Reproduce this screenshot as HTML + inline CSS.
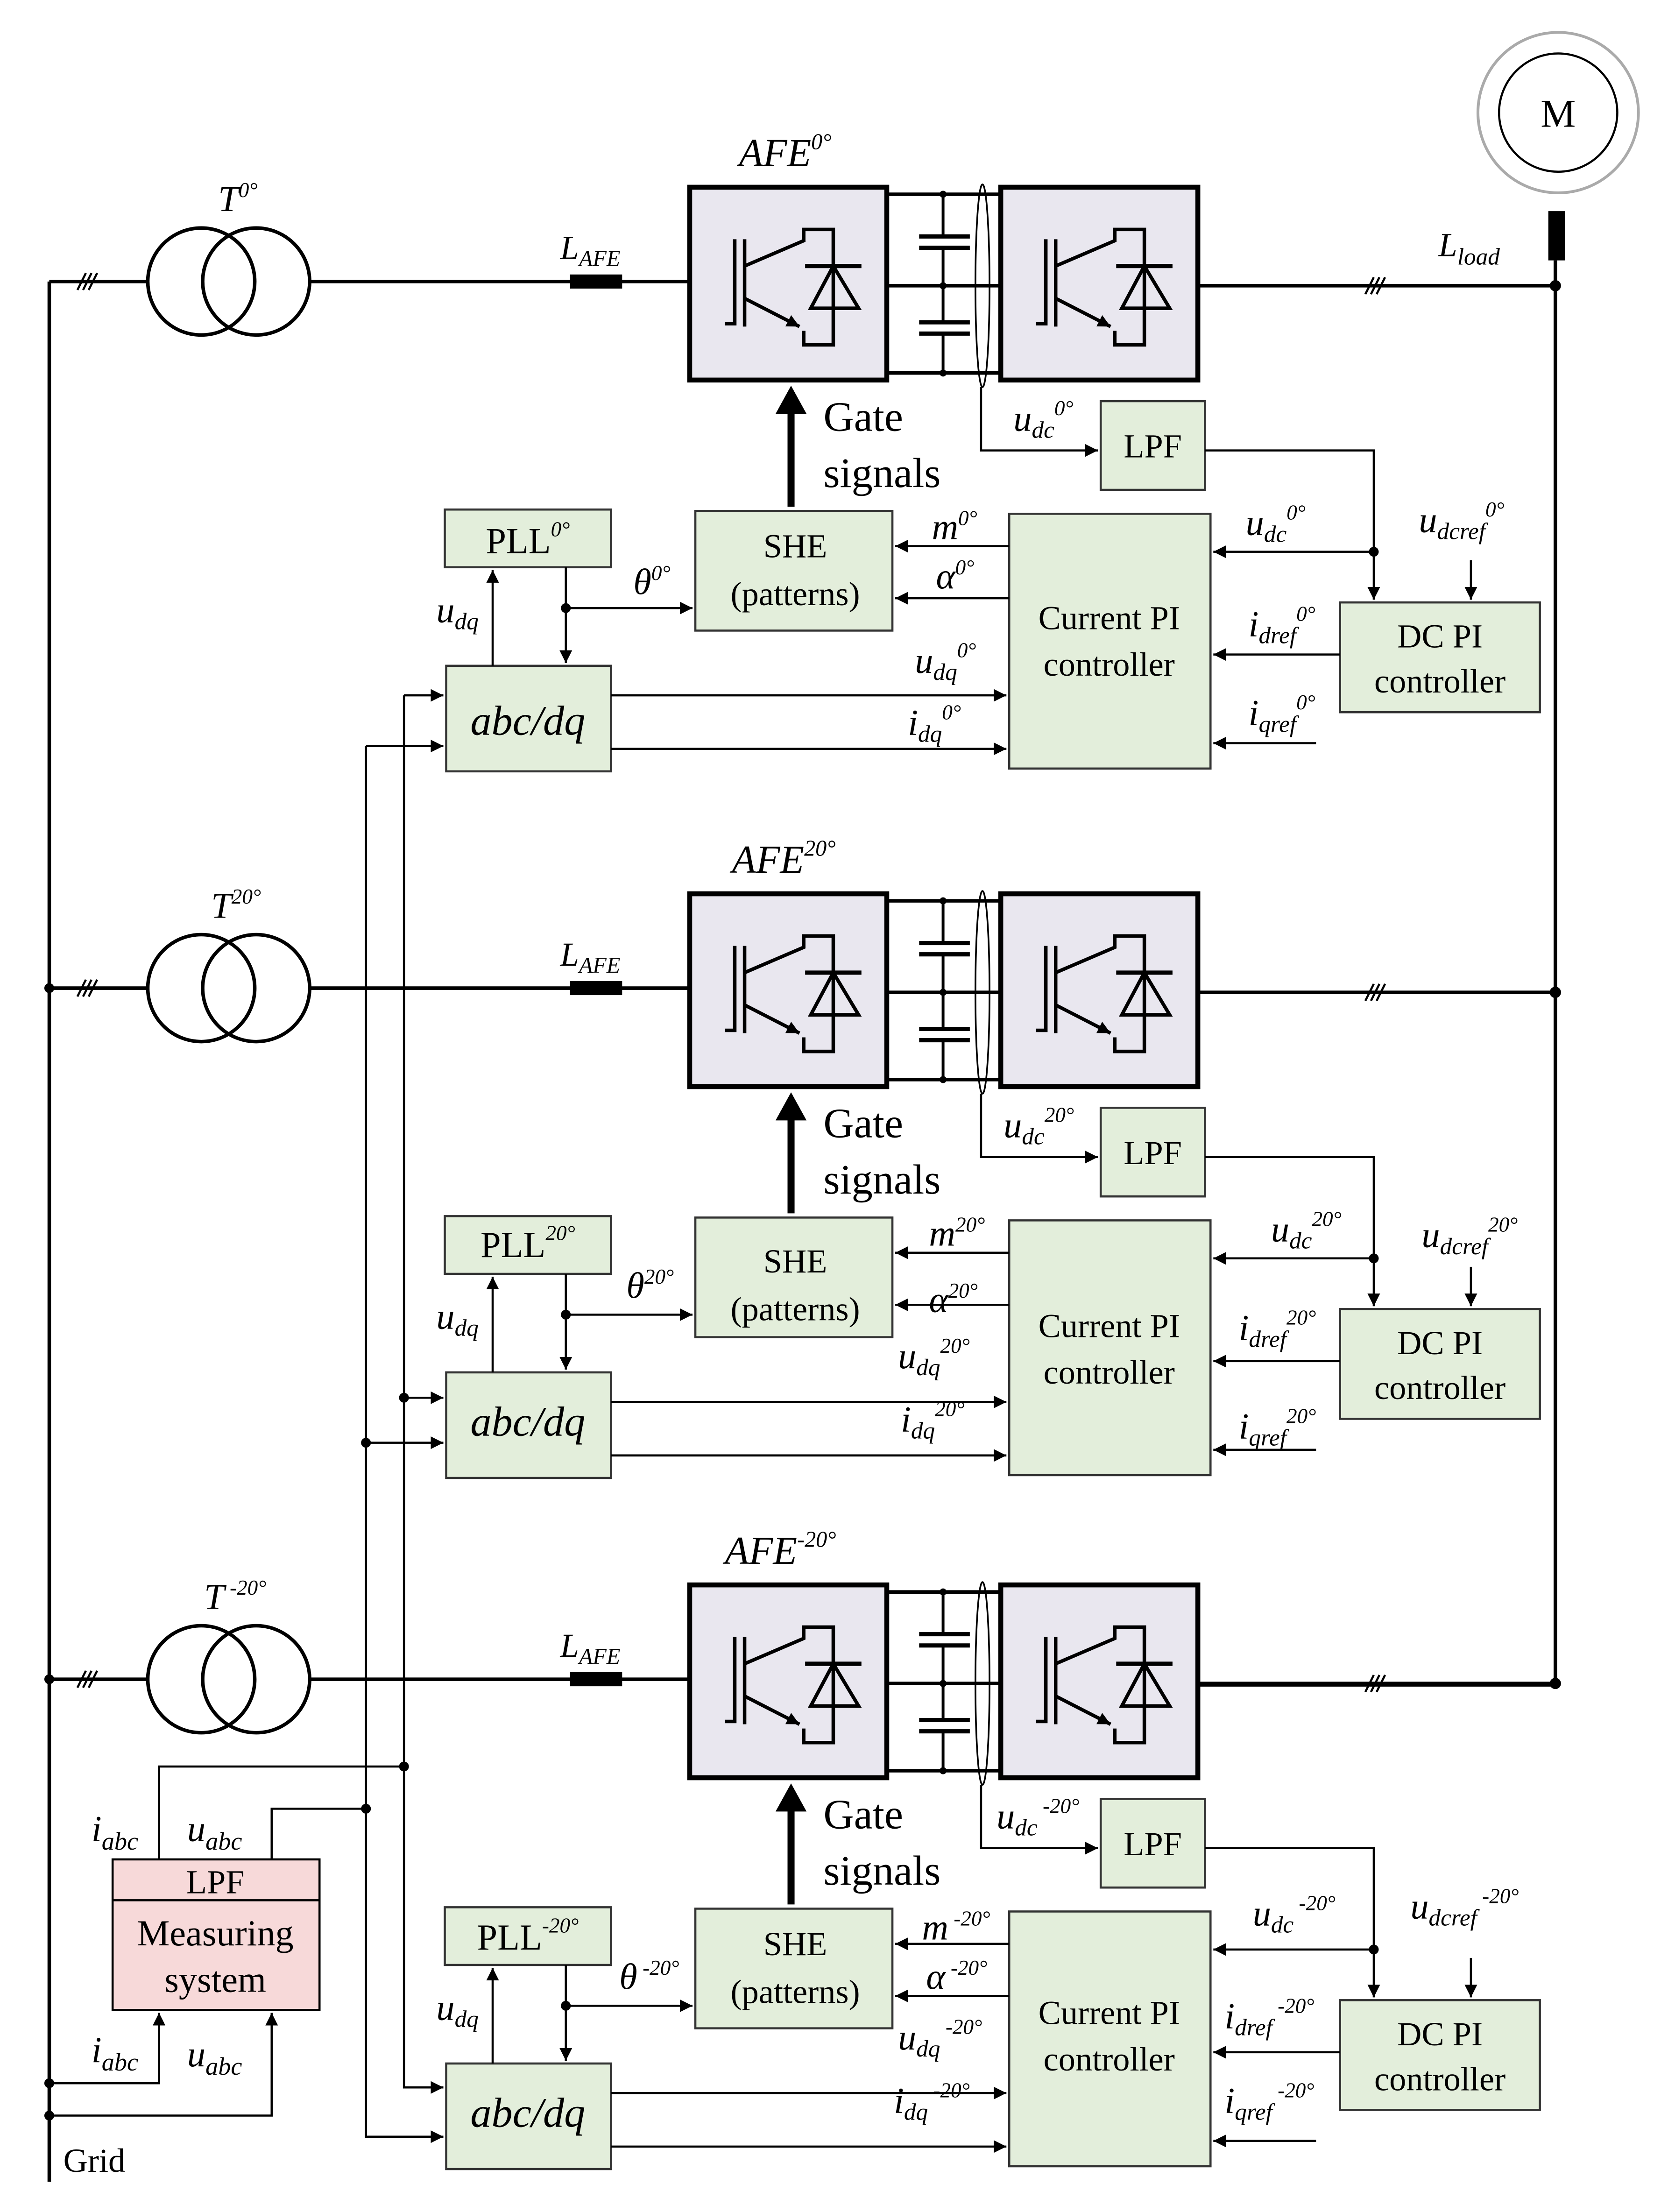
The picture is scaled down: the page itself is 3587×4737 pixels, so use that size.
<!DOCTYPE html>
<html><head><meta charset="utf-8"><style>
html,body{margin:0;padding:0;background:#fff}
svg{display:block}
text{font-family:"Liberation Serif",serif;fill:#000}
.i{font-style:italic}
</style></head><body>
<svg width="3587" height="4737" viewBox="0 0 1190 1571.5" preserveAspectRatio="none" xmlns="http://www.w3.org/2000/svg">
<defs>
<marker id="a" viewBox="0 0 10 10" refX="10" refY="5" markerWidth="9" markerHeight="9" markerUnits="userSpaceOnUse" orient="auto"><path d="M0,0L10,5L0,10z" fill="#000"/></marker>
<g id="igbt" fill="none" stroke="#000" stroke-width="2.5">
<path d="M515,230H522V170"/><path d="M529,170V232"/>
<path d="M529,189L571,171V163H592V245H571V235"/><path d="M529,212L568,232" marker-end="url(#a)"/>
<path d="M572,189H612" stroke-width="3"/><path d="M592,189L576,219H610Z"/>
</g>
<g id="blk">
<rect x="490" y="133" width="140" height="137" fill="#e9e7ef" stroke="#000" stroke-width="3.5"/>
<rect x="711" y="133" width="140" height="137" fill="#e9e7ef" stroke="#000" stroke-width="3.5"/>
<use href="#igbt"/><use href="#igbt" transform="translate(221,0)"/>
<g stroke="#000" stroke-width="2.5"><path d="M630,138H711M630,203H711M630,265H711"/>
<path d="M670,138V168M670,176V229M670,237V265" stroke-width="2"/>
<path d="M653,168H689M653,176H689M653,229H689M653,237H689" stroke-width="3"/></g>
<circle cx="670" cy="138" r="2.5"/><circle cx="670" cy="203" r="2.5"/><circle cx="670" cy="265" r="2.5"/>
<ellipse cx="698" cy="203" rx="5" ry="72" fill="none" stroke="#000" stroke-width="1.2"/>
<g fill="none" stroke="#000" stroke-width="2.5">
<circle cx="143" cy="200" r="38"/><circle cx="182" cy="200" r="38"/>
<path d="M35,200H105M220,200H490"/></g>
<path d="M55,206L61,194M59,206L65,194M63,206L69,194" stroke="#000" stroke-width="1.5"/>
<rect x="405" y="195" width="37" height="10" fill="#000"/>
<path d="M851,203H1105" stroke="#000" stroke-width="2.5"/>
<path d="M970,209L976,197M974,209L980,197M978,209L984,197" stroke="#000" stroke-width="1.5"/>
<circle cx="1105" cy="203" r="4"/>
<path d="M562,360V292" stroke="#000" stroke-width="5"/><path d="M551,294L562,274L573,294Z"/>
<g fill="#e3eedb" stroke="#333" stroke-width="1.5">
<rect x="782" y="285" width="74" height="63"/>
<rect x="316" y="362" width="118" height="41"/>
<rect x="494" y="363" width="140" height="85"/>
<rect x="717" y="365" width="143" height="181"/>
<rect x="952" y="428" width="142" height="78"/>
<rect x="317" y="473" width="117" height="75"/></g>
<g fill="none" stroke="#000" stroke-width="1.5">
<path d="M697,275V320H780" marker-end="url(#a)"/>
<path d="M856,320H976V426" marker-end="url(#a)"/>
<path d="M976,392H862" marker-end="url(#a)"/>
<path d="M1045,398V426" marker-end="url(#a)"/>
<path d="M717,388H636" marker-end="url(#a)"/>
<path d="M717,425H636" marker-end="url(#a)"/>
<path d="M402,432H492" marker-end="url(#a)"/>
<path d="M402,403V471" marker-end="url(#a)"/>
<path d="M350,473V405" marker-end="url(#a)"/>
<path d="M434,494H715" marker-end="url(#a)"/>
<path d="M434,532H715" marker-end="url(#a)"/>
<path d="M952,465H862" marker-end="url(#a)"/>
<path d="M935,528H862" marker-end="url(#a)"/>
</g>
<circle cx="976" cy="392" r="3.5"/><circle cx="402" cy="432" r="3.5"/>
</g>
</defs>

<use href="#blk"/>
<use href="#blk" transform="translate(0,502)"/>
<use href="#blk" transform="translate(0,993)"/>

<g fill="none" stroke="#000" stroke-width="2.5">
<path d="M35,200V1550"/>
<path d="M1105,185V1197H851"/>
<circle cx="1107" cy="80" r="57" stroke="#aaa" stroke-width="2"/>
<circle cx="1107" cy="80" r="42" stroke="#000" stroke-width="1.5"/>
</g>
<rect x="1100" y="150" width="12" height="35" fill="#000"/>
<g fill="none" stroke="#000" stroke-width="1.5">
<path d="M287,494H315" marker-end="url(#a)"/><path d="M260,530H315" marker-end="url(#a)"/>
<path d="M287,494V1483H315" marker-end="url(#a)"/><path d="M260,530V1518H315" marker-end="url(#a)"/>
<path d="M287,993H315" marker-end="url(#a)"/><path d="M260,1025H315" marker-end="url(#a)"/>
<path d="M113,1321V1255H287"/><path d="M193,1321V1285H260"/>
<path d="M35,1480H113V1430" marker-end="url(#a)"/><path d="M35,1503H193V1430" marker-end="url(#a)"/>
</g>
<circle cx="287" cy="993" r="3.5"/><circle cx="260" cy="1025" r="3.5"/>
<circle cx="287" cy="1255" r="3.5"/><circle cx="260" cy="1285" r="3.5"/>
<circle cx="35" cy="1480" r="3.5"/><circle cx="35" cy="1503" r="3.5"/>
<circle cx="35" cy="702" r="3.5"/><circle cx="35" cy="1193" r="3.5"/>
<circle cx="1105" cy="705" r="4"/>
<rect x="80" y="1321" width="147" height="107" fill="#f7d9d9" stroke="#000" stroke-width="1.5"/>
<path d="M80,1350H227" stroke="#000" stroke-width="1.5"/>
<text x="153" y="1345" font-size="24" text-anchor="middle">LPF</text>
<text x="153" y="1382" font-size="26" text-anchor="middle">Measuring</text>
<text x="153" y="1415" font-size="26" text-anchor="middle">system</text>
<text x="65" y="1308" font-size="26" class="i">i<tspan font-size="18" dy="6">abc</tspan></text>
<text x="133" y="1308" font-size="26" class="i">u<tspan font-size="18" dy="6">abc</tspan></text>
<text x="65" y="1465" font-size="26" class="i">i<tspan font-size="18" dy="6">abc</tspan></text>
<text x="133" y="1468" font-size="26" class="i">u<tspan font-size="18" dy="6">abc</tspan></text>
<text x="45" y="1543" font-size="24">Grid</text>
<text x="1107" y="90" font-size="28" text-anchor="middle">M</text>
<text x="1022" y="182" font-size="24" class="i">L<tspan font-size="17" dy="6">load</tspan></text>

<g font-size="26">
<text x="525" y="118" font-size="28" class="i">AFE<tspan font-size="16" dy="-12">0°</tspan></text>
<text x="155" y="150" class="i">T<tspan font-size="15" dy="-10">0°</tspan></text>
<text x="398" y="184" font-size="24" class="i">L<tspan font-size="16" dy="5">AFE</tspan></text>
<text x="585" y="306" font-size="30">Gate</text><text x="585" y="346" font-size="30">signals</text>
<text x="720" y="306" class="i">u<tspan font-size="17" dy="5">dc</tspan><tspan font-size="15" dy="-16">0°</tspan></text>
<text x="819" y="325" font-size="24" text-anchor="middle">LPF</text>
<text x="375" y="393" text-anchor="middle">PLL<tspan font-size="15" dy="-12" class="i">0°</tspan></text>
<text x="565" y="396" font-size="24" text-anchor="middle">SHE</text>
<text x="565" y="430" font-size="24" text-anchor="middle">(patterns)</text>
<text x="450" y="422" class="i">θ<tspan font-size="15" dy="-10">0°</tspan></text>
<text x="310" y="442" class="i">u<tspan font-size="17" dy="5">dq</tspan></text>
<text x="375" y="522" font-size="30" class="i" text-anchor="middle">abc/dq</text>
<text x="662" y="383" class="i">m<tspan font-size="15" dy="-10">0°</tspan></text>
<text x="665" y="418" class="i">α<tspan font-size="15" dy="-10">0°</tspan></text>
<text x="650" y="478" class="i">u<tspan font-size="17" dy="5">dq</tspan><tspan font-size="15" dy="-16">0°</tspan></text>
<text x="645" y="522" class="i">i<tspan font-size="17" dy="5">dq</tspan><tspan font-size="15" dy="-16">0°</tspan></text>
<text x="788" y="447" font-size="24" text-anchor="middle">Current PI</text>
<text x="788" y="480" font-size="24" text-anchor="middle">controller</text>
<text x="885" y="380" class="i">u<tspan font-size="17" dy="5">dc</tspan><tspan font-size="15" dy="-16">0°</tspan></text>
<text x="1008" y="378" class="i">u<tspan font-size="17" dy="5">dcref</tspan><tspan font-size="15" dy="-16">0°</tspan></text>
<text x="887" y="452" class="i">i<tspan font-size="17" dy="5">dref</tspan><tspan font-size="15" dy="-16">0°</tspan></text>
<text x="887" y="515" class="i">i<tspan font-size="17" dy="5">qref</tspan><tspan font-size="15" dy="-16">0°</tspan></text>
<text x="1023" y="460" font-size="24" text-anchor="middle">DC PI</text>
<text x="1023" y="492" font-size="24" text-anchor="middle">controller</text>
</g>
<g font-size="26" transform="translate(0,502)">
<text x="520" y="118" font-size="28" class="i">AFE<tspan font-size="16" dy="-12">20°</tspan></text>
<text x="150" y="150" class="i">T<tspan font-size="15" dy="-10">20°</tspan></text>
<text x="398" y="184" font-size="24" class="i">L<tspan font-size="16" dy="5">AFE</tspan></text>
<text x="585" y="306" font-size="30">Gate</text><text x="585" y="346" font-size="30">signals</text>
<text x="713" y="306" class="i">u<tspan font-size="17" dy="5">dc</tspan><tspan font-size="15" dy="-16">20°</tspan></text>
<text x="819" y="325" font-size="24" text-anchor="middle">LPF</text>
<text x="375" y="391" text-anchor="middle">PLL<tspan font-size="15" dy="-12" class="i">20°</tspan></text>
<text x="565" y="402" font-size="24" text-anchor="middle">SHE</text>
<text x="565" y="436" font-size="24" text-anchor="middle">(patterns)</text>
<text x="445" y="420" class="i">θ<tspan font-size="15" dy="-10">20°</tspan></text>
<text x="310" y="442" class="i">u<tspan font-size="17" dy="5">dq</tspan></text>
<text x="375" y="518" font-size="30" class="i" text-anchor="middle">abc/dq</text>
<text x="660" y="383" class="i">m<tspan font-size="15" dy="-10">20°</tspan></text>
<text x="660" y="430" class="i">α<tspan font-size="15" dy="-10">20°</tspan></text>
<text x="638" y="470" class="i">u<tspan font-size="17" dy="5">dq</tspan><tspan font-size="15" dy="-16">20°</tspan></text>
<text x="640" y="515" class="i">i<tspan font-size="17" dy="5">dq</tspan><tspan font-size="15" dy="-16">20°</tspan></text>
<text x="788" y="448" font-size="24" text-anchor="middle">Current PI</text>
<text x="788" y="481" font-size="24" text-anchor="middle">controller</text>
<text x="903" y="380" class="i">u<tspan font-size="17" dy="5">dc</tspan><tspan font-size="15" dy="-16">20°</tspan></text>
<text x="1010" y="384" class="i">u<tspan font-size="17" dy="5">dcref</tspan><tspan font-size="15" dy="-16">20°</tspan></text>
<text x="880" y="450" class="i">i<tspan font-size="17" dy="5">dref</tspan><tspan font-size="15" dy="-16">20°</tspan></text>
<text x="880" y="520" class="i">i<tspan font-size="17" dy="5">qref</tspan><tspan font-size="15" dy="-16">20°</tspan></text>
<text x="1023" y="460" font-size="24" text-anchor="middle">DC PI</text>
<text x="1023" y="492" font-size="24" text-anchor="middle">controller</text>
</g>
<g font-size="26" transform="translate(0,993)">
<text x="515" y="118" font-size="28" class="i">AFE<tspan font-size="16" dy="-12">-20°</tspan></text>
<text x="145" y="150" class="i">T<tspan font-size="15" dy="-10"> -20°</tspan></text>
<text x="398" y="184" font-size="24" class="i">L<tspan font-size="16" dy="5">AFE</tspan></text>
<text x="585" y="306" font-size="30">Gate</text><text x="585" y="346" font-size="30">signals</text>
<text x="708" y="306" class="i">u<tspan font-size="17" dy="5">dc</tspan><tspan font-size="15" dy="-16"> -20°</tspan></text>
<text x="819" y="325" font-size="24" text-anchor="middle">LPF</text>
<text x="375" y="392" text-anchor="middle">PLL<tspan font-size="15" dy="-12" class="i">-20°</tspan></text>
<text x="565" y="396" font-size="24" text-anchor="middle">SHE</text>
<text x="565" y="430" font-size="24" text-anchor="middle">(patterns)</text>
<text x="440" y="420" class="i">θ<tspan font-size="15" dy="-10"> -20°</tspan></text>
<text x="310" y="442" class="i">u<tspan font-size="17" dy="5">dq</tspan></text>
<text x="375" y="518" font-size="30" class="i" text-anchor="middle">abc/dq</text>
<text x="655" y="385" class="i">m<tspan font-size="15" dy="-10"> -20°</tspan></text>
<text x="658" y="420" class="i">α<tspan font-size="15" dy="-10"> -20°</tspan></text>
<text x="638" y="463" class="i">u<tspan font-size="17" dy="5">dq</tspan><tspan font-size="15" dy="-16"> -20°</tspan></text>
<text x="635" y="508" class="i">i<tspan font-size="17" dy="5">dq</tspan><tspan font-size="15" dy="-16"> -20°</tspan></text>
<text x="788" y="445" font-size="24" text-anchor="middle">Current PI</text>
<text x="788" y="478" font-size="24" text-anchor="middle">controller</text>
<text x="890" y="375" class="i">u<tspan font-size="17" dy="5">dc</tspan><tspan font-size="15" dy="-16"> -20°</tspan></text>
<text x="1002" y="370" class="i">u<tspan font-size="17" dy="5">dcref</tspan><tspan font-size="15" dy="-16"> -20°</tspan></text>
<text x="870" y="448" class="i">i<tspan font-size="17" dy="5">dref</tspan><tspan font-size="15" dy="-16"> -20°</tspan></text>
<text x="870" y="508" class="i">i<tspan font-size="17" dy="5">qref</tspan><tspan font-size="15" dy="-16"> -20°</tspan></text>
<text x="1023" y="460" font-size="24" text-anchor="middle">DC PI</text>
<text x="1023" y="492" font-size="24" text-anchor="middle">controller</text>
</g>
</svg>
</body></html>
